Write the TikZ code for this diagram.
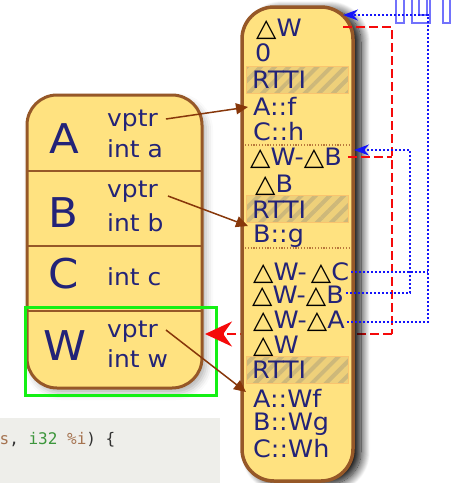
\documentclass[tikz,border=0pt]{standalone}
\usepackage{fontspec}
\setmainfont{DejaVu Sans}
\newfontfamily\boxfont[FakeStretch=1.06]{DejaVu Sans}
\newfontfamily\codefont{DejaVu Sans Mono}
\usetikzlibrary{shadows.blur,patterns.meta,arrows.meta,calc}
\definecolor{boxfill}{RGB}{255,226,128}
\definecolor{boxline}{RGB}{150,88,40}
\definecolor{txt}{RGB}{35,35,120}
\definecolor{arrbrown}{RGB}{135,55,10}
\definecolor{bandfill}{RGB}{238,208,122}
\definecolor{bandline}{RGB}{250,196,110}
\definecolor{hatchcol}{RGB}{205,184,122}
\definecolor{codebg}{RGB}{238,238,234}
\definecolor{codegreen}{RGB}{60,150,60}
\definecolor{codebrown}{RGB}{165,115,80}
\definecolor{codedark}{RGB}{50,50,50}
\definecolor{sepdot}{RGB}{185,120,60}
\definecolor{reddash}{RGB}{245,10,10}
\definecolor{bluedot}{RGB}{20,20,250}
\newcommand\tri{{\color{black}\fontsize{25}{25}\selectfont △}}
\begin{document}
\begin{tikzpicture}[x=1pt,y=-1pt,
  objbox/.style={draw=boxline,line width=3pt,fill=boxfill,rounded corners=30pt,
    blur shadow={shadow xshift=4pt,shadow yshift=-5pt,shadow opacity=30,shadow blur radius=7pt}},
  vtbox/.style={draw=boxline,line width=3.5pt,fill=boxfill,rounded corners=32pt,
    blur shadow={shadow xshift=8pt,shadow yshift=-3pt,shadow opacity=100,shadow blur radius=9pt,shadow blur steps=18}},
  greenbox/.style={draw={rgb,255:red,20;green,240;blue,20},line width=3pt},
  band/.style={draw=bandline,line width=0.8pt,preaction={fill=bandfill},
    pattern={Lines[angle=45,distance=10pt,line width=4pt]},pattern color=hatchcol},
  big/.style={text=txt,font=\boxfont\fontsize{41}{41}\selectfont,inner sep=0pt,anchor=base},
  field/.style={text=txt,font=\boxfont\fontsize{23.5}{23.5}\selectfont,inner sep=0pt,anchor=base west},
  row/.style={text=txt,font=\boxfont\fontsize{24}{24}\selectfont,inner sep=0pt,anchor=base west},
  sep/.style={draw=boxline,line width=2.5pt},
  dotsep/.style={draw=sepdot,line width=1.2pt,dash pattern=on 1.2pt off 1.6pt},
  brownarrow/.style={draw=arrbrown,line width=1.5pt,-{Triangle[length=12pt,width=11pt]}},
  redline/.style={draw=reddash,line width=2pt,dash pattern=on 9pt off 4pt},
  blueline/.style={draw=bluedot,line width=2pt,dash pattern=on 2pt off 2pt},
  bluetip/.style={-{Stealth[length=15pt,width=11pt,fill=bluedot]}},
  ghost/.style={draw=bluedot,draw opacity=0.6,line width=1.1pt},
  codetext/.style={font=\codefont\fontsize{16}{16}\selectfont,inner sep=0pt,anchor=base west}
]
\useasboundingbox (0,0) rectangle (459,483);
% code snippet in the background
\fill[codebg] (0,418) rectangle (220,483);
\node[codetext] (code) at (-0.5,444) {\color{codebrown}s\color{codedark}, \color{codegreen}i32 \color{codebrown}\%i\color{codedark}) \{};

% object layout
\node[objbox,minimum width=175pt,minimum height=293pt] (obj) at (114.5,241.5) {};
\draw[sep] (27,171) -- (202,171);
\draw[sep] (27,246) -- (202,246);
\draw[sep] (27,311) -- (202,311);
\node[big] (lA) at (64,153) {A};
\node[big] (lB) at (63,227) {B};
\node[big] (lC) at (64,288) {C};
\node[big] (lW) at (65,360) {W};
\node[field] (vptrA) at (107,126) {vptr};
\node[field] (inta) at (107,157) {int a};
\node[field] (vptrB) at (107,197) {vptr};
\node[field] (intb) at (107,231) {int b};
\node[field] (intc) at (107,285) {int c};
\node[field] (vptrW) at (107,337) {vptr};
\node[field] (intw) at (107,367) {int w};
\node[greenbox,minimum width=191pt,minimum height=88pt] (wsel) at (120.5,351) {};

% red dashed arrow behind the vtable
\coordinate (redcorner) at (392,334);
\coordinate (redtip) at (205,334);
\draw[redline,-{Stealth[length=27pt,width=25pt,fill=reddash,sep=0pt]}] (redcorner) -- (redtip);

% vtable
\node[vtbox,minimum width=111pt,minimum height=474pt] (vt) at (297.5,244) {};
\node[band,minimum width=102pt,minimum height=27pt] (band1) at (297,79.5) {};
\node[band,minimum width=102pt,minimum height=27pt] (band2) at (297,208.5) {};
\node[band,minimum width=102pt,minimum height=27pt] (band3) at (297,370) {};
\draw[dotsep] (245,145) -- (351,145);
\draw[dotsep] (245,248) -- (351,248);

\node[row] (rW1) at (256,36) {\tri W};
\node[row] (r0) at (255,61) {0};
\node[row] (rRtti1) at (252,88) {RTTI};
\node[row] (rAf) at (253,115) {A::f};
\node[row] (rCh) at (253,140) {C::h};
\node[row] (rWB1) at (250,165) {\tri W-\tri B};
\node[row] (rB) at (255,192) {\tri B};
\node[row] (rRtti2) at (252,218) {RTTI};
\node[row] (rBg) at (253,242) {B::g};
\node[row] (rWC) at (253,280) {\tri W-\,\tri C};
\node[row] (rWB2) at (252,303) {\tri W-\tri B};
\node[row] (rWA) at (253,328) {\tri W-\tri A};
\node[row] (rW2) at (253,353) {\tri W};
\node[row] (rRtti3) at (252,378) {RTTI};
\node[row] (rAWf) at (253,407) {A::Wf};
\node[row] (rBWg) at (253,430) {B::Wg};
\node[row] (rCWh) at (253,457) {C::Wh};

% brown vptr arrows
\draw[brownarrow] ($(vptrA.base east)+(8,-7)$) -- ($(rAf.base west)+(-5,-8)$);
\draw[brownarrow] ($(vptrB.base east)+(10,-1)$) -- ($(rBg.base west)+(-5,-16)$);
\draw[brownarrow] ($(vptrW.base east)+(8,-7)$) -- ($(rAWf.base west)+(-7,-15)$);

% red dashed offset lines
\coordinate (redtop) at (392,27);
\draw[redline] (343,27) -- (redtop) -- (redcorner);
\draw[redline] ($(rWB1.base east)+(6,-8)$) -- (392,157);

% blue dotted offset lines
\coordinate (bluetop) at (343,15);
\coordinate (bluemid) at (354,150);
\draw[blueline,bluetip] ($(rWA.base east)+(2,-6)$) -- (428,322) -- (428,15) -- (bluetop);
\draw[blueline] ($(rWC.base east)+(2,-8)$) -- (428,272);
\draw[blueline,bluetip] ($(rWB2.base east)+(2,-10)$) -- (410,293) -- (410,150) -- (bluemid);

% faint outlines at the top right
\draw[ghost] (396,-2) rectangle (404,23);
\draw[ghost] (412,-2) rectangle (430,23);
\draw[ghost] (419,-2) rectangle (427,15);
\draw[ghost] (443,-2) rectangle (450,23);
\end{tikzpicture}
\end{document}
